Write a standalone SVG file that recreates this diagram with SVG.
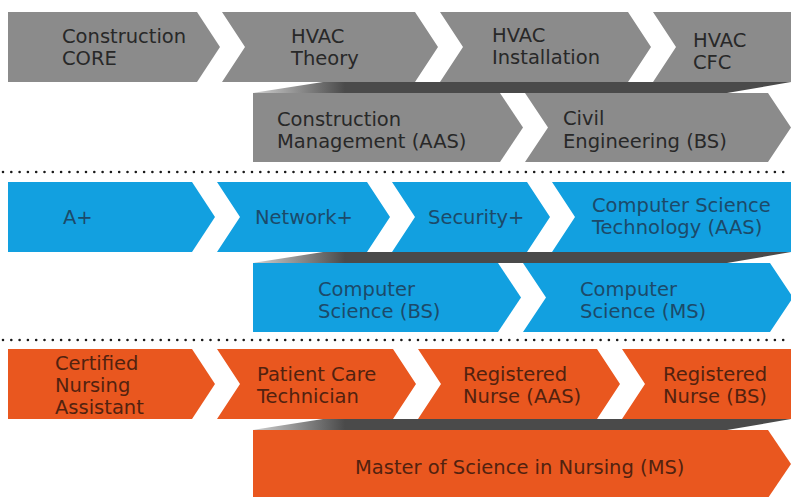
<svg xmlns="http://www.w3.org/2000/svg" width="791" height="497" viewBox="0 0 791 497">
<style>
text{font-family:"DejaVu Sans","Liberation Sans",sans-serif;font-size:19.5px}
.g{fill:#8b8b8b}.b{fill:#12a0e0}.o{fill:#e9571f}
.gt{fill:#282828}.bt{fill:#1c4a6a}.ot{fill:#52220f}
.dots{stroke:#1a1a1a;stroke-width:2.6;stroke-linecap:round;stroke-dasharray:0 8.3;fill:none}
</style>
<defs>
<linearGradient id="sh" x1="253" y1="0" x2="345" y2="0" gradientUnits="userSpaceOnUse">
<stop offset="0" stop-color="#d0d0d0"/><stop offset="1" stop-color="#4a4a4a"/>
</linearGradient>
</defs>
<rect width="791" height="497" fill="#fff"/>
<g id="connectors">
<polygon points="253,93 323,82 791,82 727,93" fill="url(#sh)"/>
<polygon points="253,263 323,252 791,252 727,263" fill="url(#sh)"/>
<polygon points="253,430 323,419 791,419 727,430" fill="url(#sh)"/>
<line class="dots" x1="3" y1="172" x2="791" y2="172"/>
<line class="dots" x1="3" y1="340" x2="791" y2="340"/>
</g>
<g id="construction-core"><polygon class="g" points="8,12 197,12 220,47 197,82 8,82"/>
<text class="gt" x="62" y="43">Construction</text><text class="gt" x="62" y="65">CORE</text></g>
<g id="hvac-theory"><polygon class="g" points="222,12 415,12 438,47 415,82 222,82 245,47"/>
<text class="gt" x="291" y="43">HVAC</text><text class="gt" x="291" y="65">Theory</text></g>
<g id="hvac-installation"><polygon class="g" points="440,12 628,12 651,47 628,82 440,82 463,47"/>
<text class="gt" x="492" y="42">HVAC</text><text class="gt" x="492" y="64">Installation</text></g>
<g id="hvac-cfc"><polygon class="g" points="653,12 791,12 791,82 653,82 676,47"/>
<text class="gt" x="693" y="47">HVAC</text><text class="gt" x="693" y="69">CFC</text></g>
<g id="construction-management"><polygon class="g" points="253,93 500,93 523,127.5 500,162 253,162"/>
<text class="gt" x="277" y="126">Construction</text><text class="gt" x="277" y="148">Management (AAS)</text></g>
<g id="civil-engineering"><polygon class="g" points="525,93 768,93 791,127.5 768,162 525,162 548,127.5"/>
<text class="gt" x="563" y="125">Civil</text><text class="gt" x="563" y="148">Engineering (BS)</text></g>
<g id="a-plus"><polygon class="b" points="8,182 192,182 215,217 192,252 8,252"/>
<text class="bt" x="63" y="224">A+</text></g>
<g id="network-plus"><polygon class="b" points="217,182 367,182 390,217 367,252 217,252 240,217"/>
<text class="bt" x="255" y="224">Network+</text></g>
<g id="security-plus"><polygon class="b" points="392,182 527,182 550,217 527,252 392,252 415,217"/>
<text class="bt" x="428" y="224">Security+</text></g>
<g id="cs-technology"><polygon class="b" points="552,182 791,182 791,252 552,252 575,217"/>
<text class="bt" x="592" y="212">Computer Science</text><text class="bt" x="592" y="234">Technology (AAS)</text></g>
<g id="cs-bs"><polygon class="b" points="253,263 498,263 521,297.5 498,332 253,332"/>
<text class="bt" x="318" y="296">Computer</text><text class="bt" x="318" y="318">Science (BS)</text></g>
<g id="cs-ms"><polygon class="b" points="523,263 770,263 793,297.5 770,332 523,332 546,297.5"/>
<text class="bt" x="580" y="296">Computer</text><text class="bt" x="580" y="318">Science (MS)</text></g>
<g id="cna"><polygon class="o" points="8,349 192,349 215,384 192,419 8,419"/>
<text class="ot" x="55" y="370">Certified</text><text class="ot" x="55" y="392">Nursing</text><text class="ot" x="55" y="414">Assistant</text></g>
<g id="pct"><polygon class="o" points="217,349 393,349 416,384 393,419 217,419 240,384"/>
<text class="ot" x="257" y="381">Patient Care</text><text class="ot" x="257" y="403">Technician</text></g>
<g id="rn-aas"><polygon class="o" points="418,349 597,349 620,384 597,419 418,419 441,384"/>
<text class="ot" x="463" y="381">Registered</text><text class="ot" x="463" y="403">Nurse (AAS)</text></g>
<g id="rn-bs"><polygon class="o" points="622,349 791,349 791,419 622,419 645,384"/>
<text class="ot" x="663" y="381">Registered</text><text class="ot" x="663" y="403">Nurse (BS)</text></g>
<g id="msn"><polygon class="o" points="253,430 768,430 791,464 768,498 253,498"/>
<text class="ot" x="355" y="474">Master of Science in Nursing (MS)</text></g>
</svg>
